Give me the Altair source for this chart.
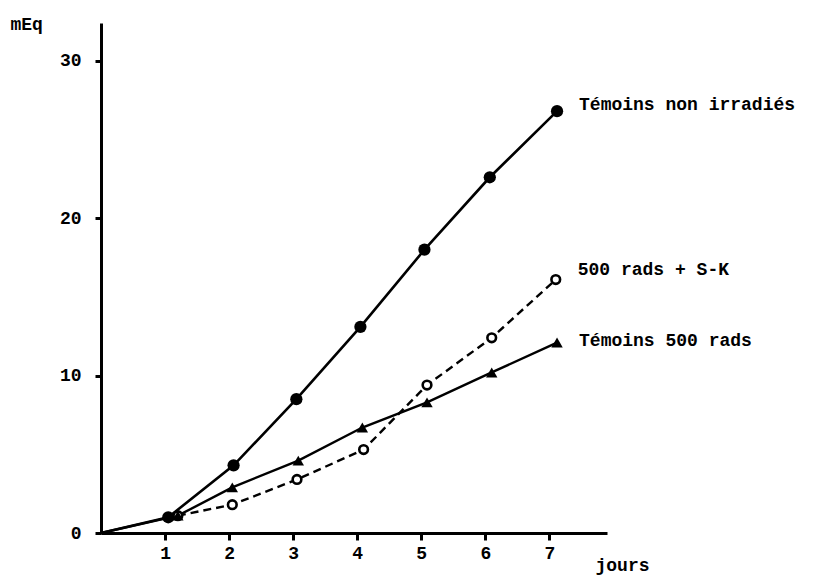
import altair as alt
import pandas as pd

# Témoins non irradiés (filled circles, solid)
x_ctrl = [1.05, 2.07, 3.05, 4.05, 5.05, 6.07, 7.12]
y_ctrl = [1.0, 4.3, 8.5, 13.1, 18.0, 22.6, 26.8]
# 500 rads + S-K (open circles, dashed)
x_sk = [1.2, 2.05, 3.06, 4.1, 5.09, 6.1, 7.1]
y_sk = [1.1, 1.8, 3.4, 5.3, 9.4, 12.4, 16.1]
# Témoins 500 rads (triangles, solid)
x_rad = [1.2, 2.05, 3.08, 4.08, 5.09, 6.1, 7.12]
y_rad = [1.1, 2.9, 4.6, 6.7, 8.3, 10.2, 12.1]

names = ["Témoins non irradiés", "500 rads + S-K", "Témoins 500 rads"]
x_ticks = [1, 2, 3, 4, 5, 6, 7]
y_ticks = [0, 10, 20, 30]

FONT = "Liberation Mono"

ctrl = pd.DataFrame({"x": x_ctrl, "y": y_ctrl})
sk = pd.DataFrame({"x": x_sk, "y": y_sk})
rad = pd.DataFrame({"x": x_rad, "y": y_rad})
origin = pd.DataFrame({"x": [0.0], "y": [0.0]})
ctrl_line = pd.concat([origin, ctrl], ignore_index=True)
rad_line = pd.concat([origin, rad], ignore_index=True)

xs = alt.Scale(domain=[0, 7.9], nice=False)
ys = alt.Scale(domain=[0, 32.4], nice=False)

X = alt.X("x:Q", scale=xs, axis=alt.Axis(
    values=x_ticks, format="d", title="jours", titleAngle=0, titleX=494, titleY=32,
    titleAlign="left", titleBaseline="middle", titleFont=FONT, titleFontSize=18,
    titleFontWeight="bold", labelFont=FONT, labelFontSize=18, labelFontWeight="bold",
    tickSize=7, tickWidth=3, domainWidth=3, domainColor="black", tickColor="black",
    labelColor="black", labelPadding=4, grid=False, labelFlush=False))
Y = alt.Y("y:Q", scale=ys, axis=alt.Axis(
    values=y_ticks, format="d", title="mEq", titleAngle=0, titleX=-91, titleY=1,
    titleAlign="left", titleBaseline="middle", titleFont=FONT, titleFontSize=18,
    titleFontWeight="bold", labelFont=FONT, labelFontSize=18, labelFontWeight="bold",
    tickSize=6, tickWidth=3, domainWidth=3, domainColor="black", tickColor="black",
    labelColor="black", labelPadding=14, grid=False, labelFlush=False))

l_ctrl = alt.Chart(ctrl_line).mark_line(color="black", strokeWidth=2.6).encode(x=X, y=Y)
p_ctrl = alt.Chart(ctrl).mark_point(shape="circle", filled=True, color="black", size=150, opacity=1).encode(x="x:Q", y="y:Q")

l_rad = alt.Chart(rad_line).mark_line(color="black", strokeWidth=2.4).encode(x="x:Q", y="y:Q")
p_rad = alt.Chart(rad).mark_point(shape="triangle-up", filled=True, color="black", size=130, opacity=1).encode(x="x:Q", y="y:Q")

l_sk = alt.Chart(sk).mark_line(color="black", strokeWidth=2.4, strokeDash=[8, 5]).encode(x="x:Q", y="y:Q")
p_sk = alt.Chart(sk).mark_point(shape="circle", filled=True, fill="white", stroke="black", strokeWidth=2.6, size=75, opacity=1).encode(x="x:Q", y="y:Q")

lab_ctrl = pd.DataFrame({"x": [x_ctrl[-1]], "y": [y_ctrl[-1]], "t": [names[0]]})
lab_sk = pd.DataFrame({"x": [x_sk[-1]], "y": [y_sk[-1]], "t": [names[1]]})
lab_rad = pd.DataFrame({"x": [x_rad[-1]], "y": [y_rad[-1]], "t": [names[2]]})

def label(df, dy):
    return alt.Chart(df).mark_text(align="left", baseline="middle", dx=22, dy=dy,
                                   font=FONT, fontSize=18, fontWeight="bold",
                                   color="black").encode(x="x:Q", y="y:Q", text="t:N")

chart = alt.layer(
    l_ctrl, l_rad, l_sk, p_sk, p_rad, p_ctrl,
    label(lab_ctrl, -6), label(lab_sk, -10), label(lab_rad, -2)
).properties(
    width=506, height=510,
    autosize=alt.AutoSizeParams(type="none"),
    padding={"left": 101, "top": 23, "right": 206, "bottom": 44},
    background="white"
).configure_view(stroke=None)

chart.save("out.html", embed_options={"renderer": "svg", "actions": False})
